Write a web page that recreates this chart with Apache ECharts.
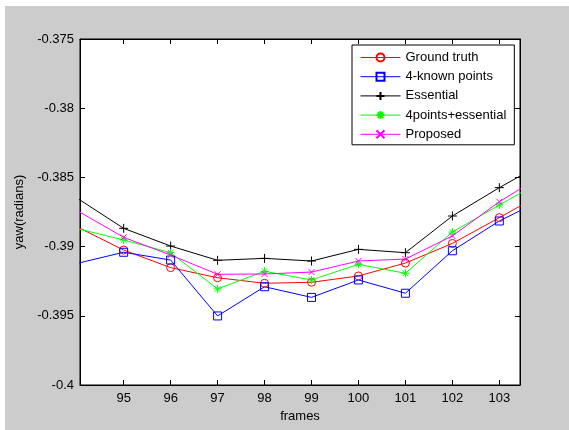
<!DOCTYPE html>
<html>
<head>
<meta charset="utf-8">
<script src="https://cdn.jsdelivr.net/npm/echarts@6/dist/echarts.min.js"></script>
<style>
	html, body { margin: 0; padding: 0; background: #fff; }
	#chart { position: absolute; left: 5px; top: 6px; width: 564px; height: 424px; }
</style>
</head>
<body>
<div id="chart"></div>
<script>
	// 数据
	var frames = [94, 95, 96, 97, 98, 99, 100, 101, 102, 103, 104];
	var xTicks = [95, 96, 97, 98, 99, 100, 101, 102, 103];
	var groundTruth = [-0.38856, -0.39025, -0.39152, -0.39225, -0.39265, -0.39258, -0.39212, -0.39119, -0.38977, -0.38791, -0.38601];
	var fourKnown = [-0.39122, -0.39041, -0.39097, -0.39501, -0.39290, -0.39367, -0.39241, -0.39337, -0.39030, -0.38815, -0.38647];
	var essential = [-0.38648, -0.38868, -0.38996, -0.39099, -0.39085, -0.39104, -0.39020, -0.39044, -0.38779, -0.38574, -0.38384];
	var fourPtsEss = [-0.38869, -0.38952, -0.39044, -0.39306, -0.39178, -0.39241, -0.39128, -0.39193, -0.38895, -0.38699, -0.38509];
	var proposed = [-0.38738, -0.38933, -0.39061, -0.39200, -0.39198, -0.39184, -0.39104, -0.39090, -0.38923, -0.38676, -0.38467];

	var font = 'Liberation Sans, Arial, sans-serif';
	var plusPath = 'path://M0,-5L0,5M-5,0L5,0';
	var xPath = 'path://M-4,-4L4,4M-4,4L4,-4';
	var starPath = 'path://M0,-5L0,5M-5,0L5,0M-3.5,-3.5L3.5,3.5M-3.5,3.5L3.5,-3.5';

	function pairs(ys) {
		var out = [];
		for (var i = 0; i < frames.length; i++) {
			out.push([frames[i], ys[i]]);
		}
		return out;
	}

	function makeSeries(name, ys, color, symbol, size) {
		return {
			name: name,
			type: 'line',
			data: pairs(ys),
			symbol: symbol,
			symbolSize: size,
			showAllSymbol: true,
			clip: true,
			animation: false,
			lineStyle: { color: color, width: 1 },
			itemStyle: { color: 'rgba(0,0,0,0)', borderColor: color, borderWidth: 1 },
			emphasis: { disabled: true }
		};
	}

	var chart = echarts.init(document.getElementById('chart'));
	var option = {
		backgroundColor: '#cccccc',
		textStyle: { fontFamily: font },
		grid: {
			left: 75,
			right: 49,
			top: 33,
			bottom: 45,
			show: true,
			backgroundColor: '#ffffff',
			borderColor: '#000',
			borderWidth: 1
		},
		legend: {
			orient: 'vertical',
			left: 347,
			top: 39,
			padding: [6, 8, 4, 8],
			itemWidth: 40,
			itemHeight: 10,
			itemGap: 6.2,
			itemTextGap: 5,
			backgroundColor: '#ffffff',
			borderColor: '#000',
			borderWidth: 1,
			lineStyle: { width: 1 },
			textStyle: { fontFamily: font, fontSize: 13, color: '#000' },
			data: ['Ground truth', '4-known points', 'Essential', '4points+essential', 'Proposed']
		},
		xAxis: [
			{
				type: 'value',
				min: 94.07,
				max: 103.44,
				name: 'frames',
				nameLocation: 'middle',
				nameGap: 22,
				nameTextStyle: { fontFamily: font, fontSize: 13, color: '#000' },
				axisLine: { lineStyle: { color: '#000' } },
				axisTick: { inside: true, length: 5, customValues: xTicks, lineStyle: { color: '#000' } },
				axisLabel: { customValues: xTicks, fontFamily: font, fontSize: 13, color: '#000', margin: 7 },
				splitLine: { show: false }
			},
			{
				type: 'value',
				position: 'top',
				min: 94.07,
				max: 103.44,
				axisLine: { lineStyle: { color: '#000' } },
				axisTick: { inside: true, length: 5, customValues: xTicks, lineStyle: { color: '#000' } },
				axisLabel: { show: false },
				splitLine: { show: false }
			}
		],
		yAxis: [
			{
				type: 'value',
				min: -0.4,
				max: -0.375,
				interval: 0.005,
				name: 'yaw(radians)',
				nameLocation: 'middle',
				nameGap: 35,
				nameTextStyle: { fontFamily: font, fontSize: 13, color: '#000' },
				axisLine: { show: true, lineStyle: { color: '#000' } },
				axisTick: { show: true, inside: true, length: 5, lineStyle: { color: '#000' } },
				axisLabel: {
					fontFamily: font, fontSize: 13, color: '#000', margin: 6,
					formatter: function(v) { return String(parseFloat(v.toFixed(3))); }
				},
				splitLine: { show: false }
			},
			{
				type: 'value',
				position: 'right',
				min: -0.4,
				max: -0.375,
				interval: 0.005,
				axisLine: { show: true, lineStyle: { color: '#000' } },
				axisTick: { show: true, inside: true, length: 5, lineStyle: { color: '#000' } },
				axisLabel: { show: false },
				splitLine: { show: false }
			}
		],
		series: [
			makeSeries('Ground truth', groundTruth, '#ff0000', 'circle', 8),
			makeSeries('4-known points', fourKnown, '#0000ff', 'rect', 8),
			makeSeries('Essential', essential, '#000000', plusPath, 9),
			makeSeries('4points+essential', fourPtsEss, '#00ff00', starPath, 8),
			makeSeries('Proposed', proposed, '#ff00ff', xPath, 6)
		]
	};
	chart.setOption(option);
</script>
</body>
</html>
